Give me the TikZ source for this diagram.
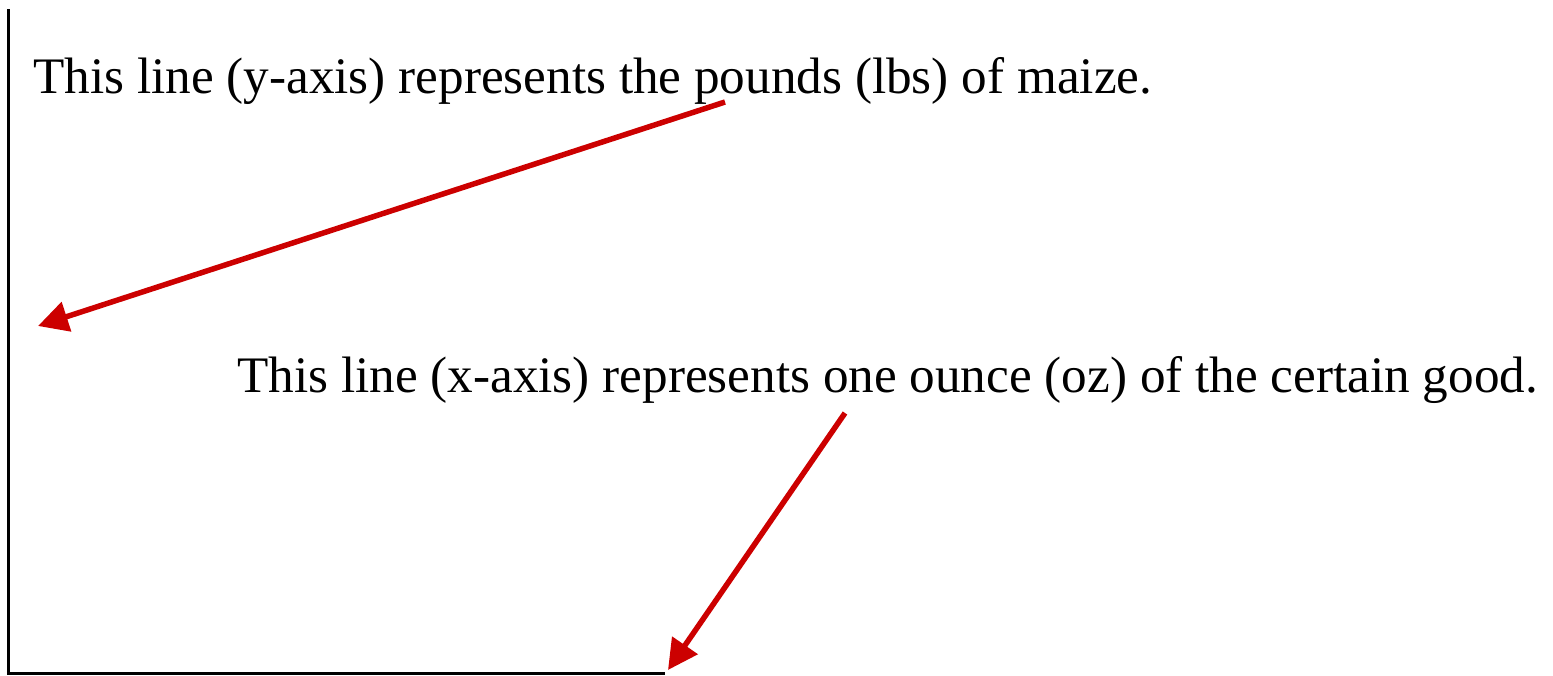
\documentclass[tikz,border=0pt]{standalone}
\usepackage{fontspec}
\setmainfont{Liberation Serif}
\usetikzlibrary{arrows.meta}
\definecolor{arrowred}{HTML}{CC0000}
\tikzset{
  label/.style={anchor=base west, inner sep=0pt, font=\fontsize{51.2}{60}\selectfont},
  pointer/.style={draw=arrowred, line width=5.5pt, -{Triangle[length=30pt,width=30pt]}, arrowred},
  axis/.style={draw=black, line width=3pt}
}
\begin{document}
\begin{tikzpicture}[x=1pt,y=-1pt]
\useasboundingbox (0,0) rectangle (1553,675);
\coordinate (top) at (8,9);
\coordinate (origin) at (8,673);
\coordinate (xend) at (665,673);
\draw[axis] (top) -- (origin) -- (xend);
\node[label] (ylab) at (33,93) {This line (y-axis) represents the pounds (lbs) of maize.};
\node[label] (xlab) at (237,392) {This line (x-axis) represents one ounce (oz) of the certain good.};
\coordinate (ystart) at (725,102);
\coordinate (ytip) at (38,326);
\coordinate (xstart) at (845,413);
\coordinate (xtip) at (668,670);
\draw[pointer] (ystart) -- (ytip);
\draw[pointer] (xstart) -- (xtip);
\end{tikzpicture}
\end{document}
